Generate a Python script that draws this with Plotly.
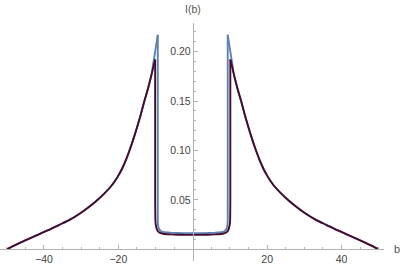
import plotly.graph_objects as go

# ---- data (right half; curves are symmetric in b) ----
outer_b = [10.1, 11, 12, 13, 14, 15, 16, 17, 18, 19, 20, 21, 22, 24, 26, 28, 30, 33, 36, 39, 42, 45, 48, 50]
dark_outer_I = [0.192, 0.178, 0.163, 0.150, 0.136, 0.123, 0.111, 0.100, 0.090, 0.0815, 0.0745, 0.0685,
                0.0635, 0.0555, 0.0485, 0.0425, 0.037, 0.030, 0.0245, 0.019, 0.014, 0.009, 0.0037, 0.0]
dark_inner_b = [10.1, 10.1, 10.05, 9.9, 9.5, 9.0, 8.0, 6.0, 4.0, 2.0, 0.0]
dark_inner_I = [0.192, 0.05, 0.03, 0.024, 0.019, 0.017, 0.0157, 0.015, 0.0147, 0.0145, 0.0145]

blue_outer_b = [9.4, 9.9, 10.4, 10.7, 11, 12, 13, 14, 15, 16, 17, 18, 19, 20, 21, 22, 24, 26, 28, 30, 33, 36, 39, 42, 45, 48, 50]
blue_outer_I = [0.217, 0.205, 0.193, 0.186, 0.178, 0.163, 0.150, 0.136, 0.123, 0.111, 0.100, 0.090, 0.0815, 0.0745,
                0.0685, 0.0635, 0.0555, 0.0485, 0.0425, 0.037, 0.030, 0.0245, 0.019, 0.014, 0.009, 0.0037, 0.0]
blue_inner_b = [9.4, 9.4, 9.35, 9.1, 8.6, 8.0, 6.0, 4.0, 2.0, 0.0]
blue_inner_I = [0.217, 0.03, 0.025, 0.021, 0.0185, 0.0175, 0.0167, 0.0164, 0.0163, 0.0163]

x_ticks = [-40, -20, 20, 40]
y_ticks = [0.05, 0.10, 0.15, 0.20]
y_ticktext = ["0.05", "0.10", "0.15", "0.20"]
x_minor = [v for v in range(-50, 51, 5) if v % 20 != 0]
y_minor = [round(0.01 * k, 2) for k in range(1, 23) if k % 5 != 0]

BLUE = "#5E81B5"
DARK = "#450c2b"
LW = 1.9

fig = go.Figure()


def add_curve(ob, oI, ib, iI, color):
    # left outer branch, inner well, right outer branch
    fig.add_trace(go.Scatter(x=[-b for b in ob], y=oI, mode="lines", line=dict(color=color, width=LW, shape="spline", smoothing=0.8),
                             showlegend=False, hoverinfo="skip"))
    ux = [-b for b in ib] + ib[-2::-1]
    uy = iI + iI[-2::-1]
    fig.add_trace(go.Scatter(x=ux, y=uy, mode="lines", line=dict(color=color, width=LW, shape="spline", smoothing=0.3),
                             showlegend=False, hoverinfo="skip"))
    fig.add_trace(go.Scatter(x=ob, y=oI, mode="lines", line=dict(color=color, width=LW, shape="spline", smoothing=0.8),
                             showlegend=False, hoverinfo="skip"))


add_curve(blue_outer_b, blue_outer_I, blue_inner_b, blue_inner_I, BLUE)
add_curve(outer_b, dark_outer_I, dark_inner_b, dark_inner_I, DARK)

xr = [-51.8, 51.4]
yr = [-0.0119, 0.229]
axis_col = "#b3b3b3"
tick_font = dict(family="Liberation Sans, Arial, sans-serif", size=10.5, color="#444444")

fig.update_layout(
    width=400, height=266,
    margin=dict(l=0, r=16, t=23, b=5),
    paper_bgcolor="white", plot_bgcolor="white",
    hovermode=False,
    xaxis=dict(range=xr, showgrid=False, zeroline=False, showline=True, linecolor=axis_col, linewidth=1,
               anchor="free", position=(0 - yr[0]) / (yr[1] - yr[0]),
               tickmode="array", tickvals=x_ticks, ticks="inside", ticklen=4, tickcolor=axis_col,
               tickfont=tick_font, automargin=False,
               minor=dict(tickmode="array", tickvals=x_minor, ticks="inside", ticklen=2.5, tickcolor=axis_col)),
    yaxis=dict(range=yr, showgrid=False, zeroline=False, showline=True, linecolor=axis_col, linewidth=1,
               anchor="free", position=(0 - xr[0]) / (xr[1] - xr[0]),
               tickmode="array", tickvals=y_ticks, ticktext=y_ticktext, ticks="inside", ticklen=4,
               tickcolor=axis_col, tickfont=tick_font, automargin=False,
               minor=dict(tickmode="array", tickvals=y_minor, ticks="inside", ticklen=2.5, tickcolor=axis_col)),
    annotations=[
        dict(text="I(b)", x=0, xref="x", y=1, yref="paper", yshift=6, xanchor="center", yanchor="bottom",
             showarrow=False, font=dict(family="Liberation Sans, Arial, sans-serif", size=10.5, color="#555555")),
        dict(text="b", x=1, xref="paper", xshift=8, y=0, yref="y", xanchor="left", yanchor="middle",
             showarrow=False, font=dict(family="Liberation Sans, Arial, sans-serif", size=11, color="#555555")),
    ],
)

fig.write_html("out.html", config={"displayModeBar": False, "staticPlot": True},
               post_script="document.body.style.margin='0';document.body.style.overflow='hidden';")
